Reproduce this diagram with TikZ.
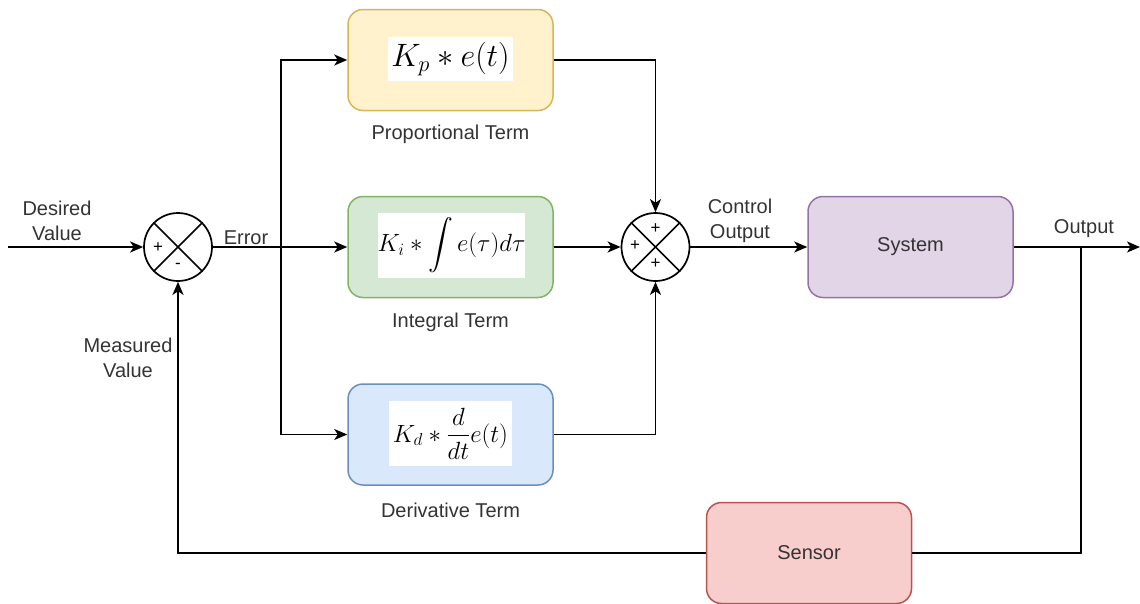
\documentclass[tikz,border=0pt]{standalone}
\usepackage{graphicx}
\usepackage{amsmath}
\usepackage{fontspec}
\setmainfont{Liberation Sans}
\usetikzlibrary{arrows.meta}
\definecolor{txt}{HTML}{333333}
\definecolor{yF}{HTML}{FFF2CC}\definecolor{yD}{HTML}{D6B656}
\definecolor{gF}{HTML}{D5E8D4}\definecolor{gD}{HTML}{82B366}
\definecolor{bF}{HTML}{DAE8FC}\definecolor{bD}{HTML}{6C8EBF}
\definecolor{pF}{HTML}{E1D5E7}\definecolor{pD}{HTML}{9673A6}
\definecolor{rF}{HTML}{F8CECC}\definecolor{rD}{HTML}{B85450}
\begin{document}
\begin{tikzpicture}[x=1pt,y=-1pt,
  blk/.style={draw, rounded corners=15pt, line width=1.5pt, minimum width=205pt, minimum height=101pt, inner sep=0pt, text=txt, font=\fontsize{20}{25}\selectfont},
  fbox/.style={fill=white, draw=none, inner sep=0pt, font=\fontsize{25}{30}\selectfont},
  sumc/.style={circle, draw, line width=1.7pt, minimum size=68pt, inner sep=0pt},
  lbl/.style={text=txt, align=center, inner sep=0pt, font=\fontsize{20}{25}\selectfont},
  sgn/.style={inner sep=0pt, font=\fontsize{17}{17}\selectfont},
  conn/.style={line width=1.8pt},
  arr/.style={conn, -{Stealth[length=13pt,width=11pt,inset=3.5pt]}}
]
\useasboundingbox (0,0) rectangle (1140,603);
% blocks
\node[blk, fill=yF, draw=yD] (P) at (450.5,60) {};
\node[blk, fill=gF, draw=gD] (I) at (450.5,247) {};
\node[blk, fill=bF, draw=bD] (D) at (450.5,434.5) {};
\node[blk, fill=pF, draw=pD] (S) at (910.5,247) {System};
\node[blk, fill=rF, draw=rD] (Se) at (809,553) {Sensor};
% formulas
\node[fbox, minimum width=125pt, minimum height=44pt] (Pf) at (450.5,59) {\scalebox{1.3}{$K_p * e(t)$}};
\node[fbox, minimum width=143pt, minimum height=65pt] (If) at (451.5,245.5) {$K_i * \displaystyle\int e(\tau)d\tau$};
\node[fbox, minimum width=123pt, minimum height=65pt] (Df) at (450.5,433.5) {$K_d * \dfrac{d}{dt}e(t)$};
% sums
\node[sumc] (s1) at (178,247) {};
\node[sumc] (s2) at (655.5,247) {};
\foreach \c in {s1,s2}{
  \draw[line width=1.5pt] (\c.45) -- (\c.225);
  \draw[line width=1.5pt] (\c.135) -- (\c.-45);
}
\node[sgn] at (158,248) {+};
\node[sgn] at (178,266) {-};
\node[sgn] at (655.5,229) {+};
\node[sgn] at (635,246) {+};
\node[sgn] at (655.5,264) {+};
% labels
\node[lbl] at (57,221) {Desired\\Value};
\node[lbl] at (246,238) {Error};
\node[lbl] at (450.5,134) {Proportional Term};
\node[lbl] at (450.5,322) {Integral Term};
\node[lbl] at (450.5,510) {Derivative Term};
\node[lbl] at (740,221) {Control\\Output};
\node[lbl] at (1084,229) {Output};
\node[lbl] at (128,358) {Measured\\Value};
% coordinates
\coordinate (in) at (8,247);
\coordinate (br) at (281,247);
\coordinate (out) at (1140,247);
\coordinate (tap) at (1081,247);
% connectors
\draw[arr] (in) -- (s1.west);
\draw[conn] (s1.east) -- (br);
\draw[arr] (br) -- (I.west);
\draw[arr] (br) |- (P.west);
\draw[arr] (br) |- (D.west);
\draw[arr] (P.east) -| (s2.north);
\draw[arr] (I.east) -- (s2.west);
\draw[arr] (D.east) -| (s2.south);
\draw[arr] (s2.east) -- (S.west);
\draw[arr] (S.east) -- (out);
\draw[conn] (tap) |- (Se.east);
\draw[arr] (Se.west) -| (s1.south);
\end{tikzpicture}
\end{document}
